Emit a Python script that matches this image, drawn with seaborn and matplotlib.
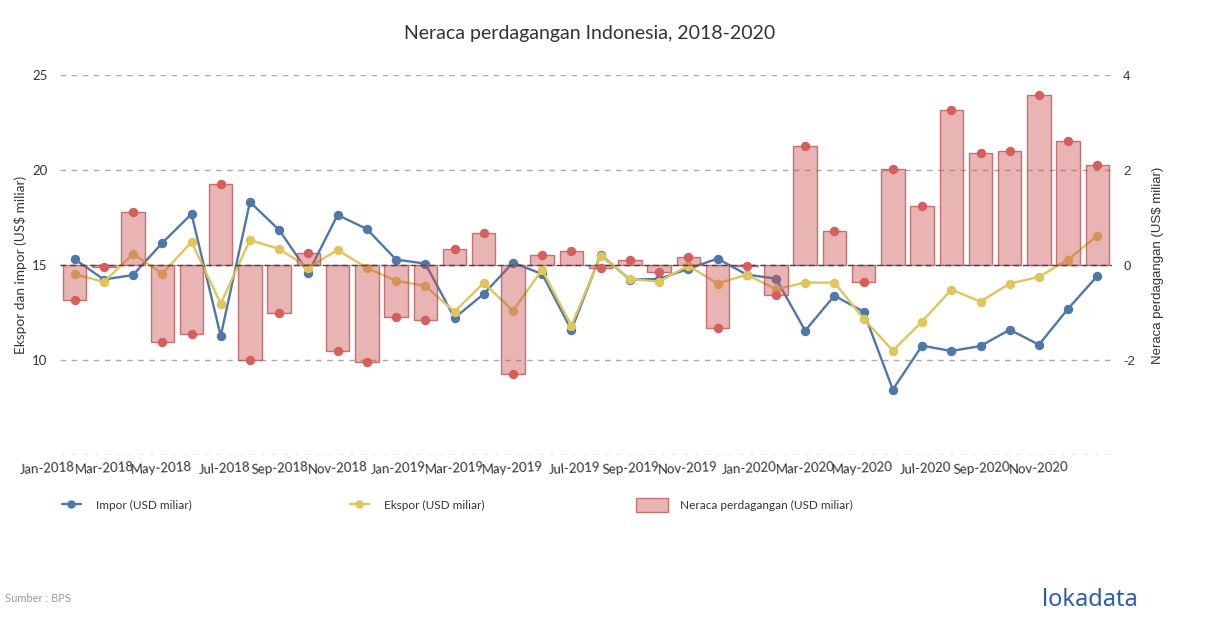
import numpy as np
import pandas as pd
import matplotlib.pyplot as plt
import seaborn as sns
from matplotlib.lines import Line2D
from matplotlib.patches import Patch

# data (USD billion)
bulan = list(pd.date_range("2018-01-01", "2020-12-01", freq="MS").strftime("%b-%Y"))
impor = [15.33, 14.25, 14.49, 16.18, 17.70, 11.28, 18.33, 16.86, 14.61, 17.65, 16.91, 15.30,
         15.09, 12.23, 13.49, 15.14, 14.54, 11.60, 15.56, 14.25, 14.28, 14.81, 15.35, 14.51,
         14.30, 11.56, 13.40, 12.56, 8.46, 10.77, 10.49, 10.75, 11.61, 10.82, 12.72, 14.44]
ekspor = [14.54, 14.12, 15.60, 14.56, 16.23, 12.98, 16.33, 15.86, 14.88, 15.81, 14.86, 14.19,
          13.91, 12.56, 14.07, 12.61, 14.77, 11.82, 15.51, 14.28, 14.14, 14.98, 14.04, 14.51,
          13.74, 14.09, 14.09, 12.19, 10.51, 12.04, 13.72, 13.09, 14.04, 14.39, 15.30, 16.56]
neraca = [-0.74, -0.03, 1.12, -1.61, -1.44, 1.71, -1.99, -1.00, 0.25, -1.80, -2.03, -1.08,
          -1.15, 0.34, 0.69, -2.28, 0.22, 0.30, -0.05, 0.12, -0.15, 0.18, -1.31, -0.01,
          -0.62, 2.51, 0.72, -0.36, 2.03, 1.25, 3.26, 2.37, 2.41, 3.59, 2.62, 2.12]

df = pd.DataFrame({"bulan": bulan, "impor": impor, "ekspor": ekspor, "neraca": neraca})

BLUE = "#4f77aa"
YELLOW = "#dfc55b"
RED = "#d65f5d"
TXT = "#333333"

sns.set_style("white")
plt.rcParams["font.family"] = ["Lato", "DejaVu Sans"]

fig = plt.figure(figsize=(12.1, 6.28), dpi=100)
ax = fig.add_axes([60 / 1210, 1 - 455.3 / 628, 1052 / 1210, 380 / 628])
ax2 = ax.twinx()

# lines for import / export (left axis)
sns.pointplot(data=df, x="bulan", y="impor", ax=ax, color=BLUE, errorbar=None,
              markersize=5.5, linewidth=1.7)
sns.pointplot(data=df, x="bulan", y="ekspor", ax=ax, color=YELLOW, errorbar=None,
              markersize=5.5, linewidth=1.7)

# trade balance bars + dots (right axis), drawn semi transparent over the lines
sns.barplot(data=df, x="bulan", y="neraca", ax=ax2, color=RED, saturation=1,
            width=0.8, errorbar=None)
for p in ax2.patches:
    p.set_facecolor((0.80, 0.33, 0.33, 0.44))
    p.set_edgecolor((0.72, 0.30, 0.30, 0.75))
    p.set_linewidth(1)
sns.stripplot(data=df, x="bulan", y="neraca", ax=ax2, color=RED, size=6.8,
              jitter=False, linewidth=0, zorder=5)
ax2.axhline(0, color="#444444", lw=1, ls=(0, (4, 3)), zorder=4)

ax.set_ylim(5, 25)
ax2.set_ylim(-4, 4)
ax.set_xlim(-0.5, 35.5)

ax.set_yticks([5, 10, 15, 20, 25], ["", "10", "15", "20", "25"])
ax2.set_yticks([-4, -2, 0, 2, 4], ["", "-2", "0", "2", "4"])
ax.grid(axis="y", color="#aaaaaa", lw=1, ls=(0, (4, 4)))
ax.grid(axis="x", visible=False)
ax2.grid(False)

ax.set_xticks(range(0, 36, 2))
ax.set_xticklabels(bulan[::2], rotation=3, ha="right", rotation_mode="anchor")

for a in (ax, ax2):
    for s in a.spines.values():
        s.set_visible(False)
    a.tick_params(length=0, colors=TXT)
ax.tick_params(axis="y", labelsize=9.5, pad=9)
ax.tick_params(axis="x", labelsize=9.5, pad=4)
ax2.tick_params(axis="y", labelsize=9.5, pad=8)
for t in ax2.get_yticklabels():
    t.set_fontfamily("Liberation Sans")

ax.set_xlabel("")
ax2.set_xlabel("")
ax.set_ylabel("Ekspor dan impor (US$ miliar)", fontsize=9.8, color=TXT)
ax2.set_ylabel("Neraca perdagangan (US$ miliar)", fontsize=9.5, color=TXT,
               family=["Liberation Sans"])
ax.yaxis.set_label_coords(-33 / 1052, 0.5)
ax2.yaxis.set_label_coords(1 + 40 / 1052, 0.5)

fig.text(590 / 1210, 1 - 33 / 628, "Neraca perdagangan Indonesia, 2018-2020",
         ha="center", va="center", fontsize=14, color=TXT)

# legend: three separate entries along the bottom
leg_y = 1 - 505 / 628
items = [
    (62, Line2D([], [], color=BLUE, lw=1.7, marker="o", markersize=5), "Impor (USD miliar)", 1.6, 0.7, 1.3),
    (350, Line2D([], [], color=YELLOW, lw=1.7, marker="o", markersize=5), "Ekspor (USD miliar)", 1.6, 0.7, 1.3),
    (636, Patch(facecolor=(0.80, 0.33, 0.33, 0.44), edgecolor=(0.72, 0.30, 0.30, 0.75)),
     "Neraca perdagangan (USD miliar)", 2.7, 1.4, 1.0),
]
for x0, h, lab, hl, hh, tp in items:
    fig.legend([h], [lab], loc="center left", bbox_to_anchor=(x0 / 1210, leg_y),
               frameon=False, fontsize=8.5, borderpad=0, borderaxespad=0,
               handlelength=hl, handleheight=hh, handletextpad=tp,
               labelcolor=TXT)

fig.text(5 / 1210, 1 - 598 / 628, "Sumber : BPS", fontsize=8, color="#999999",
         va="center", ha="left")
fig.text(1090 / 1210, 1 - 600 / 628, "lokadata", fontsize=17, color="#2d5fa6",
         va="center", ha="center", family=["Noto Sans", "DejaVu Sans"], weight="medium")

fig.savefig("out.png", dpi=100)
